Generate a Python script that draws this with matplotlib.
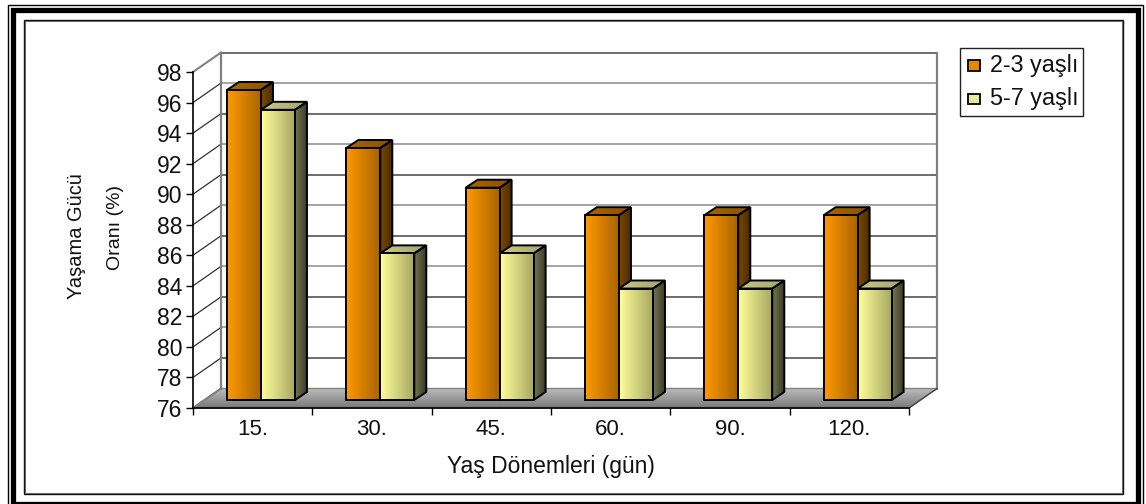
import numpy as np
import matplotlib
matplotlib.use('Agg')
import matplotlib.pyplot as plt
from matplotlib.patches import Polygon, Rectangle
from matplotlib.colors import LinearSegmentedColormap

plt.rcParams['font.family'] = ['Liberation Sans', 'DejaVu Sans']

categories = ['15.', '30.', '45.', '60.', '90.', '120.']
series_names = ['2-3 yaşlı', '5-7 yaşlı']
values_a = [96.3, 92.5, 89.9, 88.1, 88.1, 88.1]
values_b = [95.0, 85.6, 85.6, 83.3, 83.3, 83.3]
y_ticks = list(range(76, 100, 2))

W, H = 1146, 504
fig = plt.figure(figsize=(W / 100, H / 100), dpi=100, facecolor='white')

# front plane of the box, in pixels
left, right, top, bottom = 193, 909, 72, 408
ax = fig.add_axes([left / W, 1 - bottom / H, (right - left) / W, (bottom - top) / H])
ax.set_facecolor('none')

px = 6 / (right - left)
py = 22 / (bottom - top)
wall_dx, wall_dy = 28 * px, 19.5 * py
shift_y = 8 * py
bar_w = 34 * px
bar_offset = 8.3 * px
depth_x, depth_y = 12 * px, 8 * py


def fig_rect(x0, y0, x1, y1, **kw):
    fig.add_artist(Rectangle((x0 / W, 1 - y1 / H), (x1 - x0) / W, (y1 - y0) / H,
                             transform=fig.transFigure, **kw))


def gradient_poly(pts, c0, c1, vertical=False, z=3, edge='black', lw=1.4):
    pts = np.array(pts)
    cmap = LinearSegmentedColormap.from_list('g', [c0, c1])
    grad = np.linspace(0, 1, 64)
    grad = grad[:, None] if vertical else grad[None, :]
    im = ax.imshow(grad, cmap=cmap, aspect='auto', zorder=z, origin='upper',
                   extent=[pts[:, 0].min(), pts[:, 0].max(), pts[:, 1].min(), pts[:, 1].max()])
    poly = Polygon(pts, closed=True, transform=ax.transData)
    im.set_clip_box(fig.bbox)
    im.set_clip_path(poly)
    ax.add_patch(Polygon(pts, closed=True, fill=False, edgecolor=edge, linewidth=lw,
                         zorder=z + 0.01, clip_on=False, joinstyle='miter'))


# outer page frame and chart border
fig_rect(8, 5, 1142.5, 510, fill=False, edgecolor='black', linewidth=1.0)
fig_rect(12.5, 9.75, 1137.5, 503.5, fill=False, edgecolor='black', linewidth=3.8)
fig_rect(25, 21, 1122, 492.5, fill=False, edgecolor='#808080', linewidth=0.8)
fig_rect(24, 20, 1123, 493.5, fill=False, edgecolor='#111111', linewidth=1.0)

# floor
gradient_poly([(0, 76), (6, 76), (6 + wall_dx, 76 + wall_dy), (wall_dx, 76 + wall_dy)],
              '#bebebe', '#787878', vertical=True, z=1, edge='#808080', lw=1.0)

# walls and gridlines
for v in y_ticks:
    col = '#808080' if v in (76, 98) else '#303030'
    ax.plot([0, wall_dx], [v, v + wall_dy], color=col, lw=1.5 if v in (76, 98) else 0.9,
            clip_on=False, zorder=1.5)
    if v > 76:
        col = '#8c8c8c' if v % 4 == 0 else '#454545'
        ax.plot([wall_dx, 6 + wall_dx], [v + wall_dy, v + wall_dy], color=col, lw=1.1,
                clip_on=False, zorder=1.5)
for x_wall in (wall_dx, 6 + wall_dx):
    ax.plot([x_wall, x_wall], [76 + wall_dy, 98 + wall_dy], color='#808080', lw=1.6,
            clip_on=False, zorder=1.6)
ax.plot([6, 6 + wall_dx], [76, 76 + wall_dy], color='#404040', lw=0.9, clip_on=False, zorder=1.6)


def draw_bar(x0, value, face, side, cap, z):
    x1 = x0 + bar_w
    y0 = 76 + shift_y
    y1 = value + shift_y
    gradient_poly([(x1, y0), (x1 + depth_x, y0 + depth_y), (x1 + depth_x, y1 + depth_y), (x1, y1)],
                  side[0], side[1], z=z)
    gradient_poly([(x0, y1), (x1, y1), (x1 + depth_x, y1 + depth_y), (x0 + depth_x, y1 + depth_y)],
                  cap[0], cap[1], z=z)
    gradient_poly([(x0, y0), (x1, y0), (x1, y1), (x0, y1)], face[0], face[1], z=z + 0.1)


for i in range(len(categories)):
    x_a = i + 0.5 - bar_w + bar_offset
    x_b = x_a + bar_w
    draw_bar(x_a, values_a[i], ('#ff9900', '#a86400'), ('#7d4a00', '#4a2c00'),
             ('#a86400', '#8a5200'), 3 + i)
    draw_bar(x_b, values_b[i], ('#ffff99', '#a8a864'), ('#757550', '#3c3c28'),
             ('#c8c888', '#a4a470'), 3.5 + i)

ax.set_xlim(0, 6)
ax.set_ylim(76, 98)
ax.set_yticks(y_ticks)
ax.set_xticks(np.arange(7))
ax.set_xticklabels([])
for x, lab in enumerate(categories):
    ax.text(x + 0.5, 76 - 11 * py, lab, ha='center', va='top', fontsize=16, color='#111111')
ax.tick_params(axis='y', length=5, width=1.0, labelsize=16.5, pad=2.5, labelcolor='#111111')
ax.tick_params(axis='x', length=5, width=1.0)
for s in ('top', 'right'):
    ax.spines[s].set_visible(False)
for s in ('left', 'bottom'):
    ax.spines[s].set_linewidth(1.2)
    ax.spines[s].set_zorder(30)

# axis titles
fig.text(551 / W, 1 - 467 / H, 'Yaş Dönemleri (gün)', ha='center', va='center', fontsize=16.5, color='#111111')
fig.text(77 / W, 1 - 236 / H, 'Yaşama Gücü', ha='center', va='center', rotation=90,
         fontsize=14.4, color='#111111')
fig.text(115 / W, 1 - 227 / H, 'Oranı (%)', ha='center', va='center', rotation=90,
         fontsize=14, color='#111111')

# legend box
fig_rect(959.5, 47.5, 1082.5, 115.5, facecolor='white', edgecolor='#222222', linewidth=1.0)
legend_colors = ['#e68a00', '#e8e89a']
for lab, col, yc in zip(series_names, legend_colors, [65.5, 99]):
    fig_rect(968, yc - 5, 980, yc + 5, facecolor=col, edgecolor='black', linewidth=1.3)
    fig.text(990 / W, 1 - yc / H, lab, ha='left', va='center', fontsize=16.8, color='#111111')

fig.savefig('out.png', dpi=100)
